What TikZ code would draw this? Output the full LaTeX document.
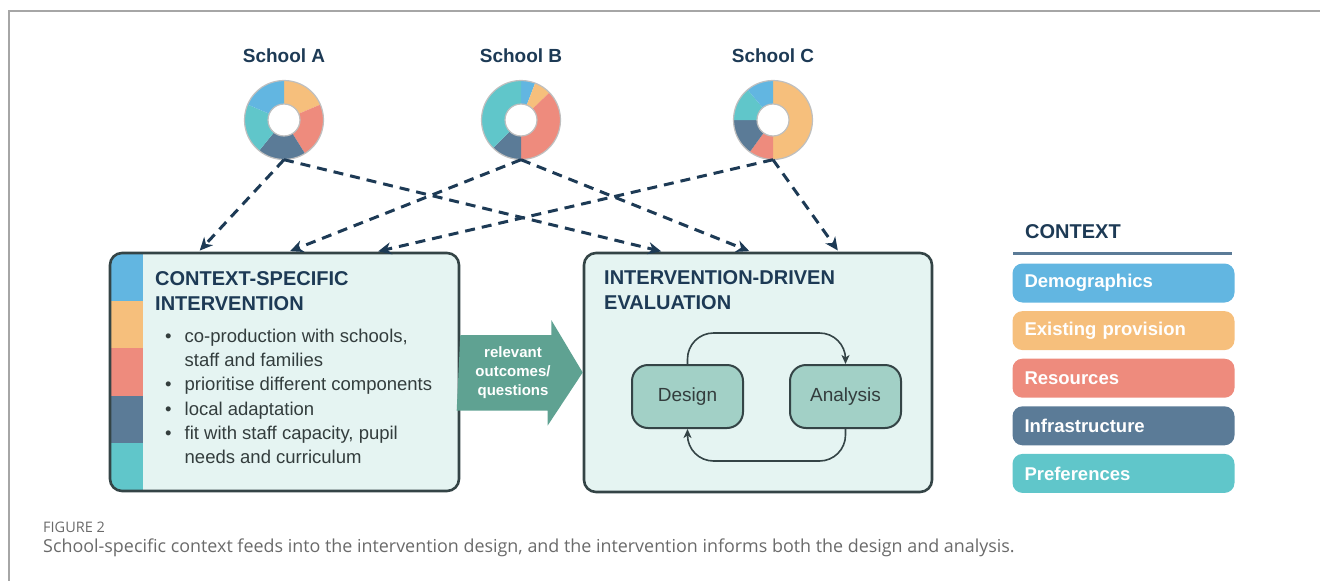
\documentclass[tikz,border=0pt]{standalone}
\usepackage{fontspec}
\setmainfont{Liberation Sans}
\newfontfamily\capfont{Open Sans}
\usetikzlibrary{arrows.meta, calc}
\definecolor{ctxblue}{HTML}{62B6E1}
\definecolor{ctxorange}{HTML}{F6BF7C}
\definecolor{ctxred}{HTML}{EE8B7D}
\definecolor{ctxslate}{HTML}{5B7B97}
\definecolor{ctxteal}{HTML}{60C6CA}
\definecolor{navy}{HTML}{1D3A55}
\definecolor{panelfill}{HTML}{E5F4F2}
\definecolor{panelline}{HTML}{344446}
\definecolor{flowfill}{HTML}{5FA292}
\definecolor{innerfill}{HTML}{A2D0C6}
\definecolor{bodytext}{HTML}{333D3D}
\definecolor{capgray}{HTML}{6A6A6A}
\tikzset{>={Stealth[length=13pt,width=12pt,inset=4pt]}}

\begin{document}
\begin{tikzpicture}[x=1pt, y=-1pt,
  every node/.style={inner sep=0pt},
  school/.style={navy, font=\bfseries\fontsize{19}{23}\selectfont},
  donut/.style={circle, minimum size=79pt},
  donutedge/.style={draw=black!25, line width=1.2pt},
  feed/.style={->, navy, line width=3pt, dash pattern=on 10pt off 7pt, shorten >=1.5pt},
  panel/.style={draw=panelline, line width=2.6pt, fill=panelfill, rounded corners=12pt,
    minimum width=349pt, minimum height=238pt},
  paneltitle/.style={navy, anchor=north west, align=left, font=\bfseries\fontsize{20}{25}\selectfont},
  stage/.style={draw=panelline, line width=2pt, fill=innerfill, rounded corners=16pt,
    minimum width=111pt, minimum height=63pt, text=bodytext, font=\fontsize{19}{23}\selectfont},
  loopline/.style={->, >={Stealth[length=9pt,width=8pt,inset=2.5pt]}, panelline, line width=1.6pt, rounded corners=26pt},
  legendbox/.style={rounded corners=10pt, minimum width=222pt, minimum height=39pt, text width=198pt,
    align=left, text=white, font=\bfseries\fontsize{18.5}{22}\selectfont}
]
\useasboundingbox (0,0) rectangle (1320,581);
\draw[black!35, line width=1.5pt] (1320,11) -- (9,11) -- (9,581);

% schools and their context mix
\foreach \s/\x in {A/284, B/521, C/773}{
  \node[school] (lab\s) at (\x,56) {School \s};
  \node[donut] (don\s) at (\x,120) {};
}
\foreach \s/\segs in {A/{0/67/ctxorange, 67/148/ctxred, 148/219/ctxslate, 219/293/ctxteal, 293/360/ctxblue},
                      B/{0/21/ctxblue, 21/46/ctxorange, 46/180/ctxred, 180/225/ctxslate, 225/360/ctxteal},
                      C/{0/180/ctxorange, 180/216/ctxred, 216/270/ctxslate, 270/320/ctxteal, 320/360/ctxblue}}
  \foreach \a/\b/\c in \segs
    \fill[\c] ([shift={(\a-90:39.5)}]don\s.center) arc[start angle=\a-90, end angle=\b-90, radius=39.5]
      -- ([shift={(\b-90:16)}]don\s.center) arc[start angle=\b-90, end angle=\a-90, radius=16] -- cycle;
\foreach \s in {A,B,C}
  \draw[donutedge] (don\s.center) circle[radius=39.5] circle[radius=16];

% the two panels
\node[panel, path picture={
  \foreach \c [count=\i from 0] in {ctxblue,ctxorange,ctxred,ctxslate,ctxteal}
    \fill[\c, sharp corners] ([yshift={-47.6pt*\i}]path picture bounding box.north west) rectangle ++(33,47.6);
  }] (csi) at (284.5,372) {};
\node[panel, minimum width=348pt, minimum height=239pt] (ied) at (758,372.5) {};

\node[paneltitle] (csititle) at (155,271) {CONTEXT-SPECIFIC\\INTERVENTION};
\node[anchor=north west, text=bodytext, font=\fontsize{18.5}{24.3}\selectfont] (csilist) at (165,325) {%
  \begin{tabular}{@{}l@{\hspace{13pt}}l@{}}
  \textbullet & co-production with schools,\\
              & staff and families\\
  \textbullet & prioritise different components\\
  \textbullet & local adaptation\\
  \textbullet & fit with staff capacity, pupil\\
              & needs and curriculum
  \end{tabular}};
\node[paneltitle] (iedtitle) at (604,270) {INTERVENTION-DRIVEN\\EVALUATION};

% block arrow between panels
\fill[flowfill] (csi.east) ++(0,-37) -- ++(91,0) -- ++(0,-15) -- (ied.west) -- ++(-35,53) -- ++(0,-15) -- ++(-91,0) -- cycle;
\node[white, align=center, font=\bfseries\fontsize{15}{19}\selectfont] (flow) at (513,373) {relevant\\outcomes/\\questions};

% design / analysis loop
\node[stage] (design) at (687.5,396.5) {Design};
\node[stage] (analysis) at (845.5,396.5) {Analysis};
\draw[loopline] (design.north) -- ++(0,-31) -| (analysis.north);
\draw[loopline] (analysis.south) -- ++(0,32) -| (design.south);

% context feeds
\draw[feed] (donA.south) -- ([xshift=90pt]csi.north west);
\draw[feed] (donA.south) -- ([xshift=80pt]ied.north west);
\draw[feed] (donB.south) -- ([xshift=180pt]csi.north west);
\draw[feed] (donB.south) -- ([xshift=168pt]ied.north west);
\draw[feed] (donC.south) -- ([xshift=268pt]csi.north west);
\draw[feed] (donC.south) -- ([xshift=256pt]ied.north west);

% legend
\node[navy, anchor=base west, font=\bfseries\fontsize{20}{24}\selectfont] (ctxtitle) at (1025,238) {CONTEXT};
\draw[ctxslate, line width=3pt] (1013,253) -- (1232,253);
\foreach \name/\col [count=\i from 0] in {Demographics/ctxblue, Existing provision/ctxorange,
    Resources/ctxred, Infrastructure/ctxslate, Preferences/ctxteal}
  \node[legendbox, fill=\col] (leg\i) at (1123.5,{283+47.6*\i}) {\name};

% caption
\node[anchor=base west, text=capgray, font=\capfont\fontsize{14.5}{17}\selectfont] (fignum) at (43,532) {FIGURE 2};
\node[anchor=base west, text=capgray, font=\capfont\fontsize{17.9}{21}\selectfont] (figcap) at (43,552)
  {School-specific context feeds into the intervention design, and the intervention informs both the design and analysis.};
\end{tikzpicture}
\end{document}
